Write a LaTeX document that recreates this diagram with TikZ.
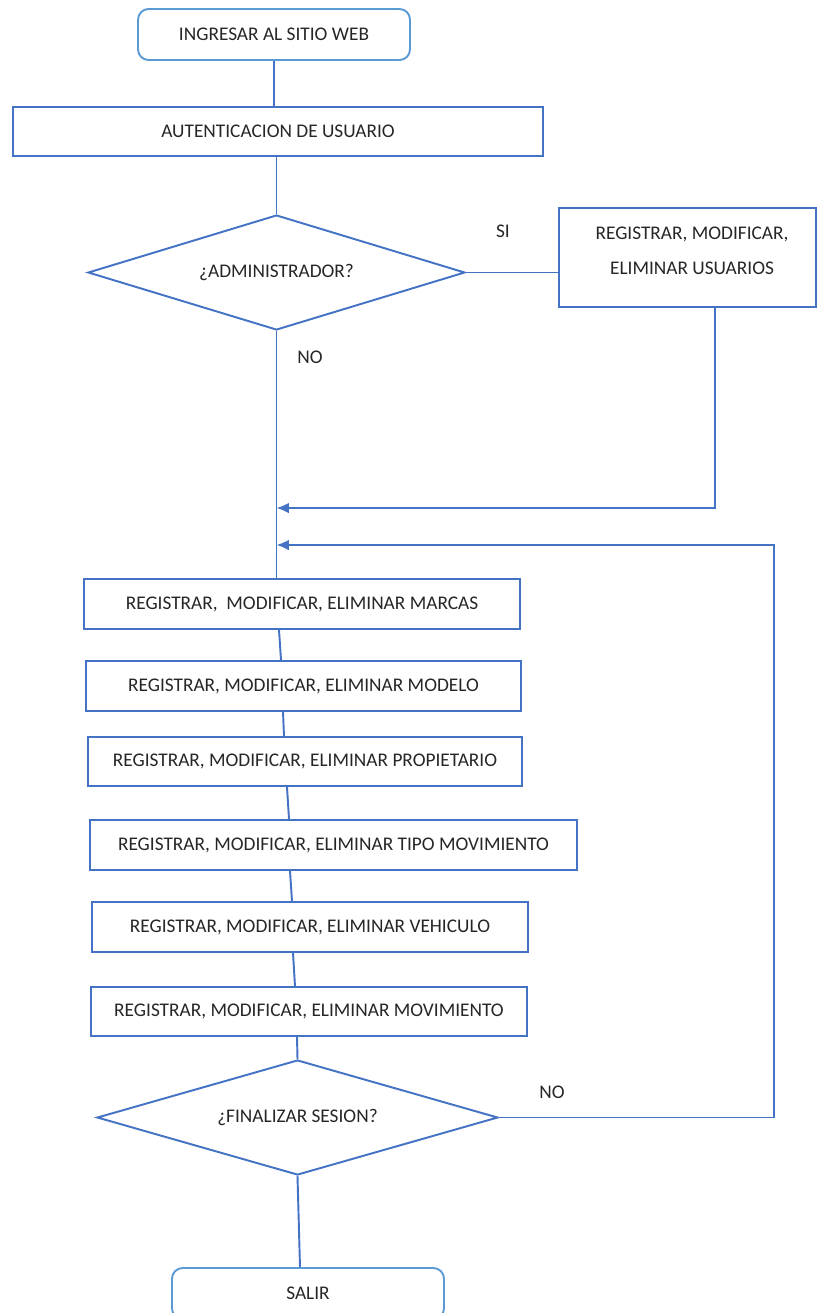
\documentclass[tikz,border=0pt]{standalone}
\usepackage{fontspec}
\setmainfont{Carlito}
\usetikzlibrary{shapes.geometric,arrows.meta}
\definecolor{azul}{HTML}{4472C4}
\definecolor{celeste}{HTML}{5B9BD5}
\tikzset{
    caja/.style={draw=azul, line width=1.1pt, minimum height=1cm, inner sep=0pt,
        font=\fontsize{11}{13}\selectfont, text=black!85},
    inicio/.style={caja, draw=celeste, rounded corners=6pt},
    decision/.style={diamond, draw=azul, line width=1.1pt, inner sep=0pt, aspect=3.4,
        minimum height=2.3cm, font=\fontsize{11}{13}\selectfont, text=black!85},
    etiqueta/.style={font=\fontsize{11}{13}\selectfont, text=black!85},
    linea/.style={azul, line width=1.1pt},
    flecha/.style={linea, -{Latex[length=7pt,width=6pt]}}
}
\begin{document}
\begin{tikzpicture}[x=0.02cm, y=-0.02cm]
            \useasboundingbox (0,0) rectangle (818,1313);

            % inicio y autenticacion
            \node[inicio, minimum width=5.44cm, minimum height=1.02cm] (ingresar) at (274,34.5) {INGRESAR AL SITIO WEB};
            \node[caja, minimum width=10.6cm, minimum height=0.98cm] (autentica) at (278,131.5) {AUTENTICACION DE USUARIO};
            \node[decision, minimum width=7.54cm] (admin) at (276.5,272.5) {¿ADMINISTRADOR?};
            \node[caja, minimum width=5.14cm, minimum height=1.98cm] (usuarios) at (687.5,257.5) {};
            \node[etiqueta, align=center, font=\fontsize{11}{20}\selectfont] (usuariostxt) at (692,250.5) {REGISTRAR, MODIFICAR,\\ELIMINAR USUARIOS};

            % mantenimientos
            \node[caja, minimum width=8.72cm] (marcas) at (302,604) {REGISTRAR, \ MODIFICAR, ELIMINAR MARCAS};
            \node[caja, minimum width=8.7cm] (modelo) at (303.5,686) {REGISTRAR, MODIFICAR, ELIMINAR MODELO};
            \node[caja, minimum width=8.7cm, minimum height=0.98cm] (propietario) at (305,761.5) {REGISTRAR, MODIFICAR, ELIMINAR PROPIETARIO};
            \node[caja, minimum width=9.74cm] (tipo) at (333.5,845) {REGISTRAR, MODIFICAR, ELIMINAR TIPO MOVIMIENTO};
            \node[caja, minimum width=8.72cm] (vehiculo) at (310,927) {REGISTRAR, MODIFICAR, ELIMINAR VEHICULO};
            \node[caja, minimum width=8.72cm, minimum height=0.98cm] (movimiento) at (309,1011.5) {REGISTRAR, MODIFICAR, ELIMINAR MOVIMIENTO};

            % fin
            \node[decision, minimum width=8.02cm, aspect=3.5] (fin) at (297.5,1117.5) {¿FINALIZAR SESION?};
            \node[inicio, minimum width=5.44cm, minimum height=1.02cm] (salir) at (308,1293.5) {SALIR};

            % etiquetas
            \node[etiqueta] (si) at (503,231) {SI};
            \node[etiqueta] (no1) at (310,357) {NO};
            \node[etiqueta] (no2) at (552,1092) {NO};

            % conectores
            \draw[linea] (ingresar) -- (autentica.north -| ingresar);
            \draw[linea] (admin.north |- autentica.south) -- (admin.north);
            \draw[linea] (admin.east) -- (admin.east -| usuarios.west);
            \draw[linea] (admin.south) -- (admin.south |- marcas.north);

            \coordinate (esq1) at (715,508);
            \draw[flecha] (usuarios.south -| esq1) -- (esq1) -- (esq1 -| admin.south);

            \coordinate (esq2) at (774,1117.5);
            \coordinate (esq3) at (774,545);
            \draw[flecha] (fin.east) -- (esq2) -- (esq3) -- (esq3 -| admin.south);

            \foreach \a/\b/\xa/\xb in {marcas/modelo/279/281, modelo/propietario/283/284,
                propietario/tipo/287/289, tipo/vehiculo/290/292,
                vehiculo/movimiento/293/295, movimiento/fin/297/297.5}
                \draw[linea] (\a.south -| \xa,0) -- (\b.north -| \xb,0);

            \draw[linea] (fin.south) -- (salir.north -| 300,0);
        \end{tikzpicture}
\end{document}
